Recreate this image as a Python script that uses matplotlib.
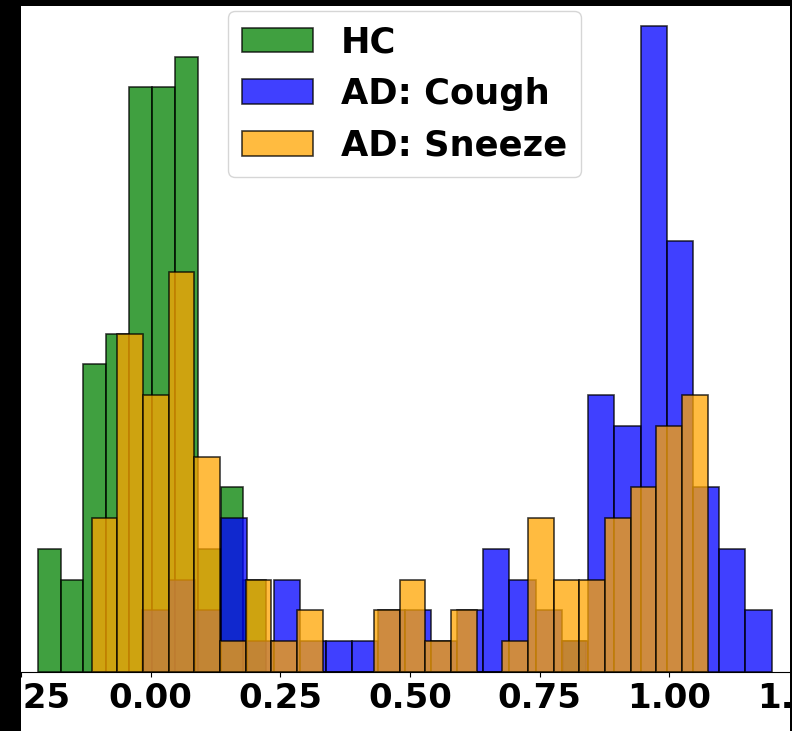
import numpy as np
import matplotlib
matplotlib.use("Agg")
import matplotlib.pyplot as plt
from matplotlib.patches import Rectangle

# ---- data (counts per bin, 24 bins per series, each over its own data range) ----
hc_range = (-0.2177, 0.8398)
hc_counts = [4, 3, 10, 11, 19, 19, 20, 4, 6, 3, 0, 0,
             0, 0, 0, 0, 0, 0, 0, 0, 0, 0, 0, 1]

cough_range = (-0.0158, 1.1976)
cough_counts = [2, 3, 2, 5, 1, 3, 1, 1, 1, 2, 2, 1,
                2, 4, 3, 2, 1, 9, 8, 21, 14, 6, 4, 2]

sneeze_range = (-0.1136, 1.0742)
sneeze_counts = [5, 11, 9, 13, 7, 1, 3, 1, 2, 0, 0, 2,
                 3, 1, 2, 0, 1, 5, 3, 3, 5, 6, 8, 9]

labels = ["HC", "AD: Cough", "AD: Sneeze"]
colors = ["green", "blue", "orange"]
xticks = [-0.25, 0.0, 0.25, 0.5, 0.75, 1.0, 1.25]

W, H = 792, 731
fig = plt.figure(figsize=(W / 100, H / 100), dpi=100)
fig.patch.set_facecolor("white")

# axes geometry (in pixels) chosen so that the visible crop matches the reference
ax_left = 1.0 / W
ax_width = 807.4 / W
ax_bottom = (H - 672) / H
ax_height = 678.5 / H
ax = fig.add_axes([ax_left, ax_bottom, ax_width, ax_height])

for rng, counts, lab, col in zip([hc_range, cough_range, sneeze_range],
                                 [hc_counts, cough_counts, sneeze_counts],
                                 labels, colors):
    edges = np.linspace(rng[0], rng[1], len(counts) + 1)
    centers = (edges[:-1] + edges[1:]) / 2
    ax.hist(centers, bins=edges, weights=counts, color=col, alpha=0.75,
            edgecolor="black", linewidth=1.2, label=lab)

ax.set_xticks(xticks)
ax.set_xticklabels([f"{t:.2f}" for t in xticks], fontsize=24.5, fontweight="bold")
ax.tick_params(axis="y", left=False, labelleft=False)

leg = ax.legend(loc="upper center", prop={"size": 25.4, "weight": "bold"})

# dark borders of the cropped screenshot
for (x0, y0, w, h) in [(0, 0, 21 / W, 1), (0, (H - 6) / H, 1, 6 / H), (790 / W, 0, 2 / W, 1)]:
    fig.patches.append(Rectangle((x0, y0), w, h, transform=fig.transFigure,
                                 facecolor="black", edgecolor="none", zorder=20))

fig.savefig("out.png", dpi=100, facecolor=fig.get_facecolor())
